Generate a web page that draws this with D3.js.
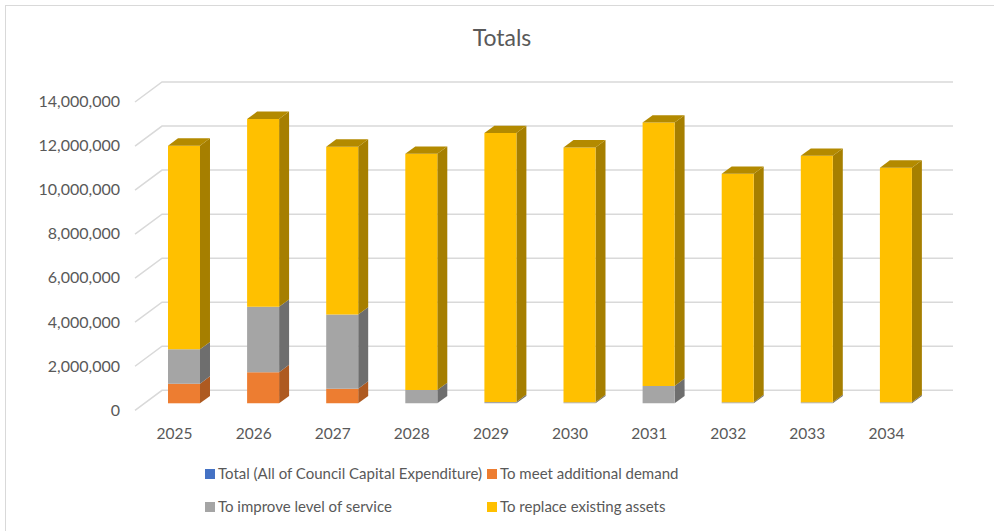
<!DOCTYPE html>
<html>
<head>
<meta charset="utf-8">
<script src="https://cdn.jsdelivr.net/npm/d3@7"></script>
<style>
  html, body { margin: 0; padding: 0; background: #fff; }
  svg { display: block; font-family: Lato, "Open Sans", sans-serif; }
</style>
</head>
<body>
<svg id="chart" width="994" height="531"></svg>
<script>
// Capital expenditure by year, stacked by purpose
const years = ["2025", "2026", "2027", "2028", "2029", "2030", "2031", "2032", "2033", "2034"];
const totalAll = [null, null, null, null, null, null, null, null, null, null];
const additionalDemand = [890000, 1410000, 660000, 0, 0, 0, 0, 0, 0, 0];
const improveService = [1560000, 2970000, 3370000, 600000, 60000, 50000, 790000, 50000, 50000, 50000];
const replaceAssets = [9250000, 8530000, 7620000, 10730000, 12210000, 11570000, 11960000, 10370000, 11190000, 10650000];
const yTicks = [0, 2000000, 4000000, 6000000, 8000000, 10000000, 12000000, 14000000];
const seriesNames = [
  "Total (All of Council Capital Expenditure)",
  "To meet additional demand",
  "To improve level of service",
  "To replace existing assets"
];

const palette = {
  blue:   { front: "#4472C4", side: "#2F5597", top: "#3A62A8" },
  orange: { front: "#ED7D31", side: "#AE5A21", top: "#C46626" },
  gray:   { front: "#A5A5A5", side: "#6E6E6E", top: "#8A8A8A" },
  yellow: { front: "#FFC000", side: "#A67F00", top: "#B38A00" }
};

const stackedSeries = [
  { name: seriesNames[1], values: additionalDemand, col: palette.orange },
  { name: seriesNames[2], values: improveService, col: palette.gray },
  { name: seriesNames[3], values: replaceAssets, col: palette.yellow }
];

const svg = d3.select("#chart");
const textColor = "#595959";

// outer chart frame
svg.append("rect")
  .attr("x", 5.5).attr("y", 5.5).attr("width", 1000).attr("height", 540)
  .attr("fill", "#fff").attr("stroke", "#d9d9d9").attr("stroke-width", 1);

// back wall geometry and oblique depth projection
const wallLeft = 162, wallRight = 953;
const depthDX = -27, depthDY = 20;
const project = (x, y, z) => [x + depthDX * z, y + depthDY * z];

const x = d3.scaleBand().domain(years).range([wallLeft, wallRight]).paddingInner(0).paddingOuter(0);
const y = d3.scaleLinear().domain([0, 14000000]).range([390.3, 82]);

const grid = svg.append("g").attr("stroke", "#d9d9d9").attr("stroke-width", 1.5).attr("fill", "none");
yTicks.forEach(t => {
  const yy = y(t);
  const p0 = project(wallLeft, yy, 1);
  grid.append("path").attr("d", `M${p0[0]},${p0[1]}L${wallLeft},${yy}L${wallRight},${yy}`);
});

// value axis labels placed on the front edge
const axisG = svg.append("g").attr("transform", `translate(${wallLeft + depthDX - 15},${depthDY})`);
const yAxis = d3.axisLeft(y).tickValues(yTicks).tickSize(0).tickPadding(0)
  .tickFormat(d => d3.format(",")(d));
axisG.call(yAxis);
axisG.select(".domain").remove();
axisG.selectAll("text").attr("fill", textColor).style("font-size", "16px")
  .style("font-family", "Lato, 'Open Sans', sans-serif").attr("dy", "0.3em");

// category labels
const xAxisG = svg.append("g").attr("transform", `translate(${depthDX},${y(0) + depthDY + 10})`);
xAxisG.call(d3.axisBottom(x).tickSize(0).tickPadding(8));
xAxisG.select(".domain").remove();
xAxisG.selectAll("text").attr("fill", textColor).style("font-size", "15.5px")
  .style("font-family", "Lato, 'Open Sans', sans-serif");

// 3D stacked columns
const barWidth = 32;
const zBack = 0.28, zFront = 0.65;
const barsG = svg.append("g");
const poly = pts => "M" + pts.map(p => p.join(",")).join("L") + "Z";

years.forEach((yr, i) => {
  const cx = x(yr) + x.bandwidth() / 2;
  const x0 = cx - barWidth / 2, x1 = cx + barWidth / 2;
  let base = 0;
  const segs = [];
  stackedSeries.forEach(s => {
    const v = s.values[i];
    if (v > 0) segs.push({ lo: base, hi: base + v, col: s.col });
    base += v;
  });
  segs.forEach((sg, k) => {
    const yl = y(sg.lo), yh = y(sg.hi);
    // right side face
    barsG.append("path").attr("fill", sg.col.side).attr("d", poly([
      project(x1, yl, zFront), project(x1, yl, zBack), project(x1, yh, zBack), project(x1, yh, zFront)
    ]));
    // front face
    barsG.append("path").attr("fill", sg.col.front).attr("d", poly([
      project(x0, yl, zFront), project(x1, yl, zFront), project(x1, yh, zFront), project(x0, yh, zFront)
    ]));
    // top face on the highest segment
    if (k === segs.length - 1) {
      barsG.append("path").attr("fill", sg.col.top).attr("d", poly([
        project(x0, yh, zFront), project(x1, yh, zFront), project(x1, yh, zBack), project(x0, yh, zBack)
      ]));
    }
  });
});

// title
svg.append("text").attr("x", 502).attr("y", 46).attr("text-anchor", "middle")
  .attr("fill", textColor).style("font-size", "23px").text("Totals");

// legend
const legendItems = [
  { name: seriesNames[0], col: palette.blue.front, lx: 205, ly: 474 },
  { name: seriesNames[1], col: palette.orange.front, lx: 487, ly: 474 },
  { name: seriesNames[2], col: palette.gray.front, lx: 205, ly: 507 },
  { name: seriesNames[3], col: palette.yellow.front, lx: 487, ly: 507 }
];
const lg = svg.append("g");
legendItems.forEach(it => {
  lg.append("rect").attr("x", it.lx).attr("y", it.ly - 5).attr("width", 10).attr("height", 10).attr("fill", it.col);
  lg.append("text").attr("x", it.lx + 13).attr("y", it.ly).attr("dy", "0.35em")
    .attr("fill", textColor).style("font-size", "15px").text(it.name);
});
</script>
</body>
</html>
